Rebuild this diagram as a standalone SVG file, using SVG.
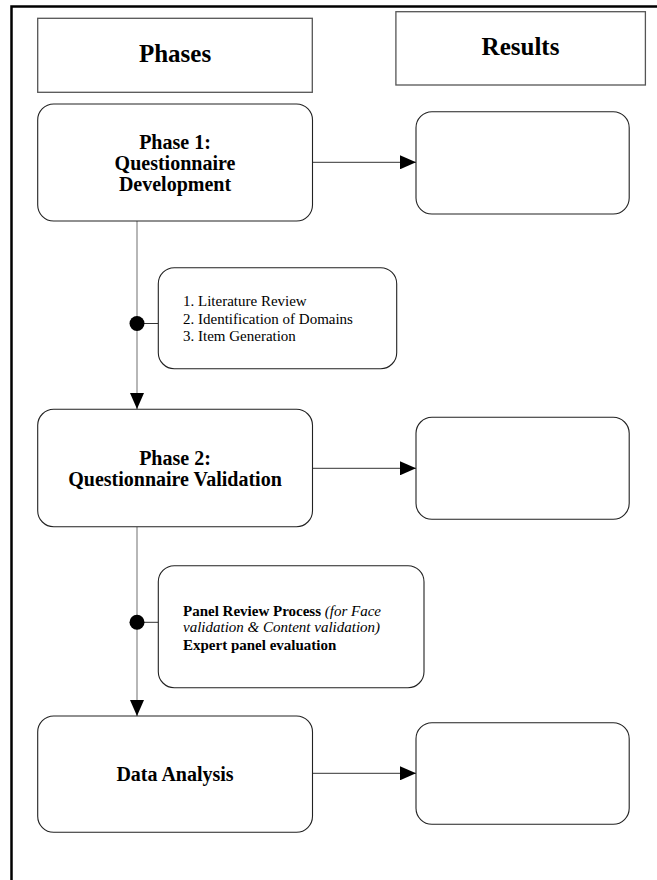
<svg xmlns="http://www.w3.org/2000/svg" width="657" height="880" viewBox="0 0 657 880">
<defs>
<style>
.hdr{fill:#fff;stroke:#555;stroke-width:1.3}
.node{fill:#fff;stroke:#222;stroke-width:1.1}
.t{font-family:"Liberation Serif","Times New Roman",serif;fill:#000}
.h{font-size:25px;font-weight:bold;text-anchor:middle}
.p{font-size:20px;font-weight:bold;text-anchor:middle}
.s{font-size:15px}
.vline{stroke:#999;stroke-width:1.4;fill:none}
.hline{stroke:#333;stroke-width:1;fill:none}
</style>
<marker id="arr" markerWidth="16" markerHeight="14" refX="16" refY="7" orient="auto" markerUnits="userSpaceOnUse">
<path d="M0,0 L16,7 L0,14 Z" fill="#000"/>
</marker>
</defs>
<rect width="657" height="880" fill="#fff"/>
<g id="frame">
<path d="M11.5,880 L11.5,6.5 L657,6.5" fill="none" stroke="#000" stroke-width="2.5"/>
</g>
<g id="phases-header">
<rect class="hdr" x="37.7" y="18.3" width="274.6" height="74"/>
<text class="t h" x="175" y="62">Phases</text>
</g>
<g id="results-header">
<rect class="hdr" x="395.9" y="11.7" width="249.5" height="73.3"/>
<text class="t h" x="520.5" y="55">Results</text>
</g>
<g id="connectors">
<line class="vline" x1="137" y1="221" x2="137" y2="409"/>
<line class="vline" x1="137" y1="527" x2="137" y2="716"/>
<line class="vline" x1="137" y1="395" x2="137" y2="409" marker-end="url(#arr)"/>
<line class="vline" x1="137" y1="700" x2="137" y2="716" marker-end="url(#arr)"/>
<line class="hline" x1="137" y1="323.5" x2="158.3" y2="323.5"/>
<circle cx="137" cy="323.5" r="7.5" fill="#000"/>
<line class="hline" x1="137" y1="622.3" x2="158.3" y2="622.3"/>
<circle cx="137" cy="622.3" r="7.5" fill="#000"/>
<line class="hline" x1="312.5" y1="162.3" x2="416" y2="162.3" marker-end="url(#arr)"/>
<line class="hline" x1="312.5" y1="468.3" x2="416" y2="468.3" marker-end="url(#arr)"/>
<line class="hline" x1="312.5" y1="773.3" x2="416" y2="773.3" marker-end="url(#arr)"/>
</g>
<g id="phase1">
<rect class="node" x="37.7" y="104" width="274.8" height="117" rx="16"/>
<text class="t p" x="175" y="149">Phase 1:</text>
<text class="t p" x="175" y="170">Questionnaire</text>
<text class="t p" x="175" y="191">Development</text>
</g>
<g id="result1">
<rect class="node" x="416" y="111.7" width="213.2" height="102.3" rx="16"/>
</g>
<g id="phase1-steps">
<rect class="node" x="158.3" y="267.7" width="238.4" height="101" rx="16"/>
<text class="t s" x="183" y="306">1. Literature Review</text>
<text class="t s" x="183" y="323.5">2. Identification of Domains</text>
<text class="t s" x="183" y="341">3. Item Generation</text>
</g>
<g id="phase2">
<rect class="node" x="37.7" y="409.3" width="274.8" height="117.4" rx="16"/>
<text class="t p" x="175" y="464.5">Phase 2:</text>
<text class="t p" x="175" y="486">Questionnaire Validation</text>
</g>
<g id="result2">
<rect class="node" x="416" y="417.3" width="213.2" height="102" rx="16"/>
</g>
<g id="phase2-steps">
<rect class="node" x="158.3" y="565.7" width="265.7" height="122" rx="16"/>
<text class="t s" x="183" y="616"><tspan font-weight="bold">Panel Review Process</tspan> <tspan font-style="italic">(for Face</tspan></text>
<text class="t s" x="183" y="632" font-style="italic">validation &amp; Content validation)</text>
<text class="t s" x="183" y="649.5" font-weight="bold">Expert panel evaluation</text>
</g>
<g id="data-analysis">
<rect class="node" x="37.7" y="716" width="274.8" height="116.3" rx="16"/>
<text class="t p" x="175" y="781">Data Analysis</text>
</g>
<g id="result3">
<rect class="node" x="416" y="722.7" width="213.2" height="101.6" rx="16"/>
</g>
</svg>
